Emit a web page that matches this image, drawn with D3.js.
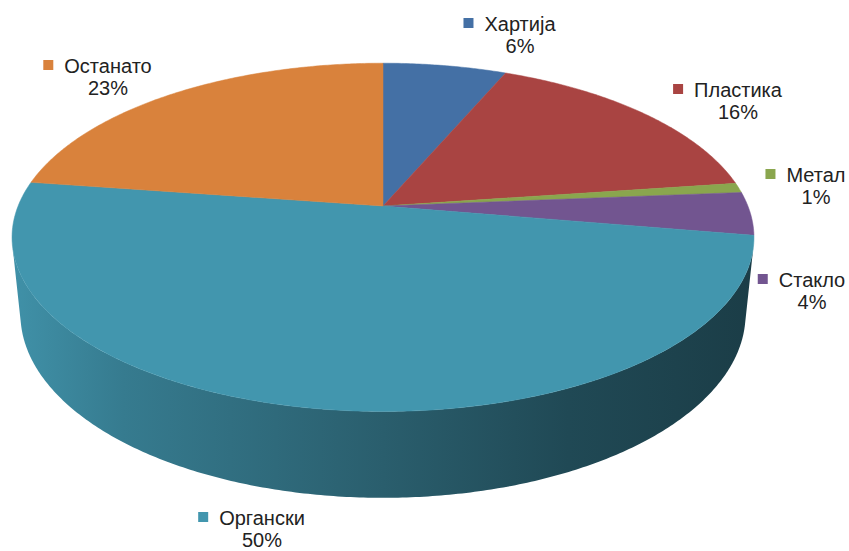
<!DOCTYPE html>
<html>
<head>
<meta charset="utf-8">
<script src="https://cdn.jsdelivr.net/npm/d3@7"></script>
<style>
  body { margin: 0; background: #fff; }
  svg { display: block; }
</style>
</head>
<body>
<div id="chart"></div>
<script>
// data
const names = ["Хартија", "Пластика", "Метал", "Стакло", "Органски", "Останато"];
const shares = [6.4, 16.4, 0.9, 4.0, 49.6, 22.7];
const pctLabels = ["6%", "16%", "1%", "4%", "50%", "23%"];
const colors = ["#4470a5", "#a94442", "#8aa64e", "#725590", "#4296ae", "#d9823c"];

// label layout: centre x of the name text, baseline of first line
const labelAt = [[520, 31], [738, 97], [816, 182], [812, 287], [262, 525], [108, 73]];

const width = 849, height = 551;

// perspective "camera" for the 3d disc
const CX = 383, CY = 206;   // screen position of the disc centre
const D = 4.93;             // camera distance (disc radius = 1)
const F = 1799;             // focal scale
const tilt = 27.5 * Math.PI / 180;
const thick = 0.239;        // disc height
const cosE = Math.cos(tilt), sinE = Math.sin(tilt);

function project(theta, y) {
  const x = Math.sin(theta), z = Math.cos(theta);
  const yc = y * cosE + z * sinE;
  const zc = z * cosE - y * sinE;
  const k = F / (D + zc);
  return [CX + x * k, CY - yc * k];
}

function arcPoints(a0, a1, y) {
  const n = Math.max(2, Math.ceil(Math.abs(a1 - a0) / 0.01));
  return d3.range(n + 1).map(i => project(a0 + (a1 - a0) * i / n, y));
}

const svg = d3.select("#chart").append("svg")
  .attr("width", width)
  .attr("height", height);

const pie = d3.pie().sort(null).value(d => d);
const arcs = pie(shares);
const line = d3.line();

// side gradient per slice (lighter on the left, dark on the right)
const defs = svg.append("defs");
colors.forEach((c, i) => {
  const g = defs.append("linearGradient")
    .attr("id", "side-" + i)
    .attr("gradientUnits", "userSpaceOnUse")
    .attr("x1", 12).attr("x2", 754)
    .attr("y1", 0).attr("y2", 0);
  [[0, 0.1], [0.15, 0.55], [0.5, 1.3], [0.75, 2.0], [1, 2.5]].forEach(([o, k]) => {
    g.append("stop").attr("offset", o).attr("stop-color", d3.color(c).darker(k));
  });
});

// visible part of the wall
const vis0 = Math.acos(-1 / (D * cosE));
const vis1 = 2 * Math.PI - vis0;

const sides = svg.append("g");
arcs.forEach((a, i) => {
  const s = Math.max(a.startAngle, vis0), e = Math.min(a.endAngle, vis1);
  if (e <= s) return;
  const pts = arcPoints(s, e, 0).concat(arcPoints(e, s, -thick));
  sides.append("path")
    .attr("d", line(pts) + "Z")
    .attr("fill", `url(#side-${i})`);
});

// top faces
const tops = svg.append("g");
arcs.forEach((a, i) => {
  const pts = [[CX, CY]].concat(arcPoints(a.startAngle, a.endAngle, 0));
  tops.append("path")
    .attr("d", line(pts) + "Z")
    .attr("fill", colors[i])
    .attr("stroke", colors[i])
    .attr("stroke-width", 0.5);
});

// labels
const fontSize = 20;
const labels = svg.append("g")
  .attr("font-family", "'Liberation Sans', Arial, sans-serif")
  .attr("font-size", fontSize)
  .attr("fill", "#222");

names.forEach((n, i) => {
  const [x, y] = labelAt[i];
  const t = labels.append("text")
    .attr("x", x).attr("y", y)
    .attr("text-anchor", "middle")
    .text(n);
  const w = t.node().getComputedTextLength();
  labels.append("rect")
    .attr("x", x - w / 2 - 21)
    .attr("y", y - 13)
    .attr("width", 10).attr("height", 10)
    .attr("fill", colors[i]);
  labels.append("text")
    .attr("x", x).attr("y", y + 22)
    .attr("text-anchor", "middle")
    .text(pctLabels[i]);
});
</script>
</body>
</html>
